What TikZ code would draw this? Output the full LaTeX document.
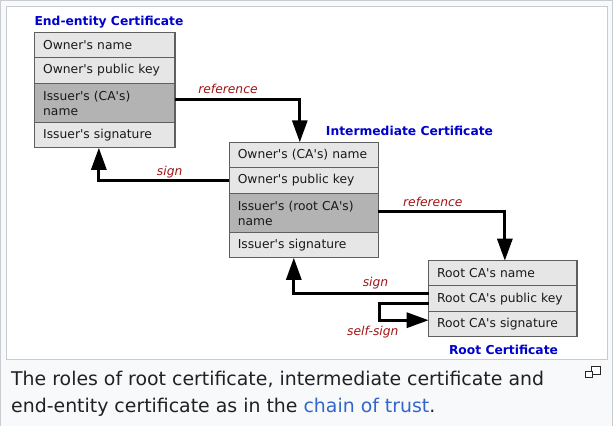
\documentclass[tikz,border=0pt]{standalone}
\usepackage{fontspec}
\newfontfamily\dejavu[Ligatures = TeXOff]{DejaVu Sans}
\usetikzlibrary{positioning,arrows.meta}
\definecolor{cellfill}{HTML}{E6E6E6}
\definecolor{keyfill}{HTML}{B3B3B3}
\definecolor{cellline}{HTML}{5F5F5F}
\definecolor{certblue}{HTML}{0000CC}
\definecolor{arrowred}{HTML}{A01414}
\definecolor{framegray}{HTML}{C8CCD1}
\definecolor{framebg}{HTML}{F8F9FA}
\definecolor{captext}{HTML}{202122}
\definecolor{linkblue}{HTML}{3366CC}
\begin{document}
\begin{tikzpicture}[x = 1pt, y = -1pt,
  field/.style = {draw = cellline, fill = cellfill, line width = 1.3pt, outer sep = 0pt, inner xsep = 8.5pt, inner ysep = 0pt, minimum height = 25pt, align = left, text = black!90, font = \dejavu\fontsize{12.3}{15}\selectfont},
  keyfield/.style = {field, fill = keyfill, minimum height = 39.5pt},
  certtitle/.style = {anchor = base, inner sep = 0pt, text = certblue, font = \dejavu\bfseries\fontsize{12.3}{14}\selectfont},
  lbl/.style = {anchor = base, inner sep = 0pt, text = arrowred, font = \dejavu\itshape\fontsize{12.3}{14}\selectfont},
  link/.style = {line width = 3pt, -{Triangle[length = 22pt, width = 15pt]}},
  caption/.style = {anchor = base west, inner sep = 0pt, text = captext, font = \dejavu\fontsize{18.9}{30}\selectfont}]
\useasboundingbox (0,0) rectangle (614,426);
\fill[framebg] (0,0) rectangle (612.5,426);
\draw[framegray, line width = 1pt] (0.5,0.5) rectangle (612.5,440);
\draw[framegray, fill = white, line width = 1pt] (6.5,6.5) rectangle (607.5,359.5);
\node[field, text width = 123.3pt, anchor = north west] at (34.7,32.3) (e1) {Owner's name};
\node[field, text width = 123.3pt, minimum height = 26pt, below = 0pt of e1] (e2) {Owner's public key};
\node[keyfield, text width = 123.3pt, below = 0pt of e2] (e3) {Issuer's (CA's)\\name};
\node[field, text width = 123.3pt, below = 0pt of e3] (e4) {Issuer's signature};
\node[certtitle] at (109,25) (etitle) {End-entity Certificate};
\node[field, text width = 132pt, anchor = north west] at (229.3,142.3) (i1) {Owner's (CA's) name};
\node[field, text width = 132pt, minimum height = 26pt, below = 0pt of i1] (i2) {Owner's public key};
\node[keyfield, text width = 132pt, below = 0pt of i2] (i3) {Issuer's (root CA's)\\name};
\node[field, text width = 132pt, below = 0pt of i3] (i4) {Issuer's signature};
\node[certtitle] at (409.5,135) (ititle) {Intermediate Certificate};
\node[field, text width = 131.3pt, anchor = north west] at (428.7,260.7) (r1) {Root CA's name};
\node[field, text width = 131.3pt, minimum height = 26pt, below = 0pt of r1] (r2) {Root CA's public key};
\node[field, text width = 131.3pt, below = 0pt of r2] (r3) {Root CA's signature};
\node[certtitle] at (503.5,354) (rtitle) {Root Certificate};
\draw[link] ([yshift = 4pt]e3.east) -| ([xshift = -4pt]i1.north);
\draw[link] (i2.west) -| ([xshift = -6pt]e4.south);
\draw[link] ([yshift = 2pt]i3.east) -| ([xshift = 2pt]r1.north);
\draw[link] ([yshift = 5pt]r2.west) -| ([xshift = -10pt]i4.south);
\draw[link] ([yshift = -5pt]r2.west) -- ++(-49.5,0) |- ([yshift = 4pt]r3.west);
\node[lbl] at (228,93) (ref1) {reference};
\node[lbl] at (169.7,175) (sign1) {sign};
\node[lbl] at (432.8,206) (ref2) {reference};
\node[lbl] at (375.5,286.7) (sign2) {sign};
\node[lbl] at (372.8,335) (selfsign) {self-sign};
\node[caption] at (11,385) (cap1) {The roles of root certificate, intermediate certificate and};
\node[caption] at (11,412) (cap2) {end-entity certificate as in the \textcolor{linkblue}{chain of trust}.};
\draw[black!85, line width = 0.8pt, fill = white] (591.5,366.5) rectangle (600.5,374);
\draw[black!85, line width = 0.8pt, fill = white] (585.5,371.5) rectangle (592,377);
\end{tikzpicture}
\end{document}
